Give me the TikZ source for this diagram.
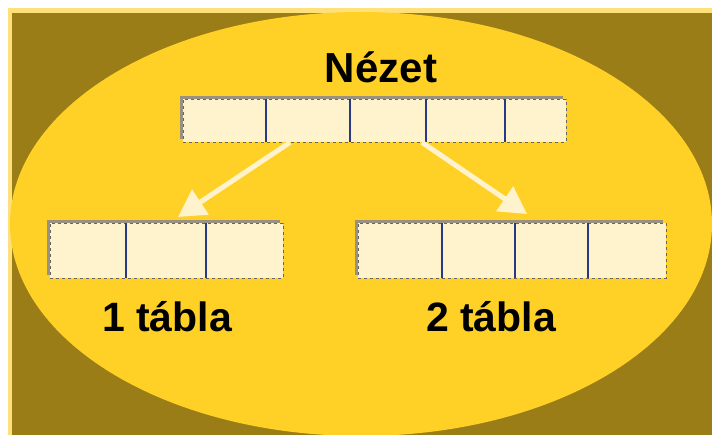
\documentclass[tikz,border=0pt]{standalone}
\usepackage{fontspec}
\setmainfont{Liberation Sans}
\usetikzlibrary{arrows.meta,shadows}
\definecolor{olive}{HTML}{9B7D17}
\definecolor{rim}{HTML}{FFE07A}
\definecolor{sun}{HTML}{FFD126}
\definecolor{cell}{HTML}{FFF3CE}
\definecolor{shade}{HTML}{9A9180}
\definecolor{rule}{HTML}{283A85}
\begin{document}
\begin{tikzpicture}[x=1pt,y=-1pt,
  tbl/.style={fill=cell,draw=black!60,dashed,line width=0.4pt,inner sep=0pt,anchor=north west,
    general shadow={fill=shade,shadow xshift=-3pt,shadow yshift=3pt}},
  divider/.style={draw=rule,line width=1.8pt},
  link/.style={draw=cell,line width=5pt,-{Triangle[length=27pt,width=29pt]}},
  label/.style={font=\bfseries\fontsize{41}{48}\selectfont,anchor=base}]
\useasboundingbox (0,0) rectangle (712,435);
\fill[rim] (8,8) rectangle (712,435);
\fill[olive] (12,13) rectangle (712,435);
\begin{scope}
\clip (8,8) rectangle (712,435);
\fill[sun] (361,224) ellipse [x radius=351,y radius=212];
\end{scope}
% tables
\node[tbl,minimum width=383pt,minimum height=43pt] (view) at (183,99) {};
\node[tbl,minimum width=233pt,minimum height=55pt] (tab1) at (50,223) {};
\node[tbl,minimum width=308pt,minimum height=55pt] (tab2) at (358,223) {};
\foreach \d in {83,167,243,322}
  \draw[divider] ([xshift=\d pt]view.north west) -- ([xshift=\d pt]view.south west);
\foreach \d in {76,156}
  \draw[divider] ([xshift=\d pt]tab1.north west) -- ([xshift=\d pt]tab1.south west);
\foreach \d in {84,157,230}
  \draw[divider] ([xshift=\d pt]tab2.north west) -- ([xshift=\d pt]tab2.south west);
% arrows
\draw[link] ([xshift=107pt]view.south west) -- ([xshift=128pt,yshift=6pt]tab1.north west);
\draw[link] ([xshift=239pt]view.south west) -- ([xshift=169pt,yshift=9pt]tab2.north west);
% labels
\node[label,font=\bfseries\fontsize{42}{48}\selectfont] (nview) at (381,83) {Nézet};
\node[label] (ntab1) at (167,332) {1 tábla};
\node[label] (ntab2) at (491,332) {2 tábla};
\end{tikzpicture}
\end{document}
